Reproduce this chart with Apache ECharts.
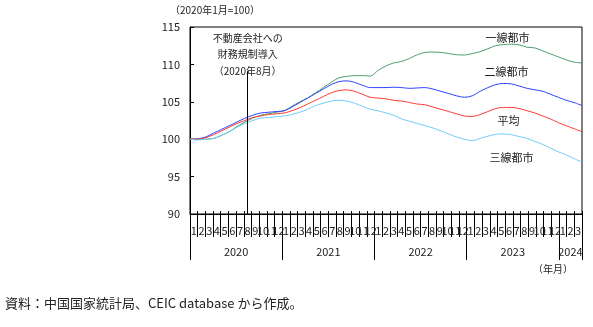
<!DOCTYPE html>
<html><head><meta charset="utf-8">
<script src="https://cdn.jsdelivr.net/npm/echarts@6/dist/echarts.min.js"></script>
<style>html,body{margin:0;padding:0;background:#fff}#c{width:593px;height:327px}</style>
</head><body><div id="c"></div>
<script>
// ---- data ----
const categories = [
 '2020-1','2020-2','2020-3','2020-4','2020-5','2020-6','2020-7','2020-8','2020-9','2020-10','2020-11','2020-12',
 '2021-1','2021-2','2021-3','2021-4','2021-5','2021-6','2021-7','2021-8','2021-9','2021-10','2021-11','2021-12',
 '2022-1','2022-2','2022-3','2022-4','2022-5','2022-6','2022-7','2022-8','2022-9','2022-10','2022-11','2022-12',
 '2023-1','2023-2','2023-3','2023-4','2023-5','2023-6','2023-7','2023-8','2023-9','2023-10','2023-11','2023-12',
 '2024-1','2024-2','2024-3'];
const yearLabels = ['2020','2021','2022','2023','2024'];
const yearStartIndex = [0, 12, 24, 36, 48];
const tier1 = [100.0,100.0,100.0,100.1,100.5,101.0,101.7,102.3,102.8,103.2,103.4,103.6,
 103.8,104.4,105.0,105.5,106.2,106.9,107.6,108.2,108.4,108.5,108.5,108.45,
 109.2,109.8,110.2,110.4,110.8,111.3,111.6,111.65,111.6,111.45,111.3,111.25,
 111.45,111.7,112.1,112.5,112.65,112.7,112.6,112.3,112.2,111.8,111.4,111.0,
 110.6,110.3,110.2];
const tier2 = [100.0,100.05,100.3,100.8,101.3,101.8,102.3,102.8,103.2,103.5,103.6,103.7,
 103.8,104.3,104.9,105.5,106.1,106.7,107.3,107.7,107.8,107.6,107.2,106.9,
 106.9,106.9,106.95,106.9,106.8,106.85,106.9,106.7,106.4,106.1,105.8,105.6,
 105.8,106.4,106.9,107.3,107.45,107.4,107.1,106.8,106.6,106.4,106.0,105.6,
 105.2,104.9,104.5];
const average = [100.0,100.0,100.2,100.6,101.1,101.6,102.1,102.5,102.9,103.1,103.3,103.4,
 103.5,103.8,104.2,104.7,105.2,105.7,106.2,106.5,106.6,106.4,106.0,105.6,
 105.5,105.4,105.2,105.1,104.9,104.7,104.6,104.3,104.0,103.7,103.4,103.1,
 103.05,103.3,103.7,104.1,104.25,104.25,104.1,103.8,103.5,103.1,102.7,102.2,
 101.8,101.4,101.0];
const tier3 = [100.0,99.9,100.0,100.1,100.5,101.0,101.6,102.1,102.5,102.8,102.9,103.0,
 103.1,103.3,103.6,104.0,104.5,104.8,105.1,105.2,105.1,104.8,104.4,104.0,
 103.8,103.5,103.2,102.7,102.4,102.1,101.8,101.5,101.1,100.7,100.3,100.0,
 99.8,100.1,100.4,100.65,100.7,100.6,100.35,100.1,99.7,99.3,98.8,98.3,
 97.9,97.4,96.95];
const yTicks = [90, 95, 100, 105, 110, 115];

// ---- chart ----
const FONT = '"Noto Sans CJK JP", "Noto Sans", sans-serif';
const chart = echarts.init(document.getElementById('c'), null, {renderer: 'canvas'});
const yearMid = yearStartIndex.map((s, i) => ((s + (yearStartIndex[i + 1] ?? categories.length)) / 2));
const isYearStart = (i) => yearStartIndex.includes(i);

function seriesLabel(text, idx, val, off) {
  return {
    symbol: 'circle', symbolSize: 0, silent: true,
    data: [{coord: [categories[idx], val], value: text}],
    label: {show: true, position: 'inside', formatter: text, color: '#222', fontSize: 11, fontFamily: FONT, offset: off}
  };
}
function lineSeries(name, data, color, lbl) {
  return {
    name, type: 'line', data, xAxisIndex: 4, yAxisIndex: 0,
    symbol: 'none', smooth: 0.3, lineStyle: {color, width: 1}, itemStyle: {color},
    markPoint: lbl, z: 3
  };
}

const option = {
  animation: false,
  backgroundColor: '#fff',
  textStyle: {fontFamily: FONT},
  grid: {left: 190, right: 11, top: 27, bottom: 113, show: true, borderColor: '#000', borderWidth: 1},
  xAxis: [
    { // months, labels + inner ticks
      type: 'category', data: categories, boundaryGap: true, position: 'bottom', offset: 0,
      axisLine: {show: true, lineStyle: {color: '#000', width: 1}},
      axisTick: {show: true, inside: true, length: 3, interval: 0, lineStyle: {color: '#000'}},
      axisLabel: {interval: 0, margin: 11, fontSize: 11, color: '#222', fontFamily: FONT,
        formatter: (v) => v.split('-')[1]},
      splitLine: {show: false}
    },
    { // month separator ticks below
      type: 'category', data: categories, boundaryGap: true, position: 'bottom', offset: 0,
      axisLine: {show: false},
      axisTick: {show: true, inside: false, length: 23, interval: 0, lineStyle: {color: '#000'}},
      axisLabel: {show: false}, splitLine: {show: false}
    },
    { // year separator ticks
      type: 'category', data: categories, boundaryGap: true, position: 'bottom', offset: 0,
      axisLine: {show: false},
      axisTick: {show: true, inside: false, length: 46, interval: (i) => isYearStart(i), lineStyle: {color: '#000'}},
      axisLabel: {show: false}, splitLine: {show: false}
    },
    { // year labels
      type: 'value', min: 0, max: categories.length, interval: 1.5, position: 'bottom', offset: 0,
      axisLine: {show: false}, axisTick: {show: false}, splitLine: {show: false},
      axisLabel: {margin: 32, fontSize: 11, color: '#222', fontFamily: FONT,
        formatter: (v) => { const k = yearMid.findIndex(m => Math.abs(m - v) < 1e-6); return k >= 0 ? yearLabels[k] : ''; }},
      name: '（年月）', nameLocation: 'end', nameGap: 0,
      nameTextStyle: {fontSize: 10, color: '#222', fontFamily: FONT, align: 'right', verticalAlign: 'top', padding: [50, 9, 0, 0]}
    },
    { // hidden axis for the lines (edge to edge)
      type: 'category', data: categories, boundaryGap: false, show: false
    }
  ],
  yAxis: [{
    type: 'value', min: yTicks[0], max: yTicks[yTicks.length - 1], interval: 5,
    axisLine: {show: true, lineStyle: {color: '#000'}},
    axisTick: {show: true, inside: true, length: 4, lineStyle: {color: '#000'}},
    axisLabel: {margin: 10, fontSize: 11, color: '#222', fontFamily: FONT},
    splitLine: {show: false}
  }],
  graphic: [
    {type: 'text', left: 170, top: 5, style: {text: '（2020年1月=100）', fill: '#222', font: '10px ' + FONT}},
    {type: 'text', left: 5, top: 297, style: {text: '資料：中国国家統計局、CEIC database から作成。', fill: '#222', font: '13px ' + FONT}}
  ],
  series: [
    { // annotation: start of financing rules (Aug 2020)
      name: '注記', type: 'line', data: [], xAxisIndex: 0, yAxisIndex: 0, symbol: 'none',
      markLine: {
        silent: true, symbol: 'none', lineStyle: {color: '#000', width: 1, type: 'solid'},
        label: {show: false},
        data: [[{coord: ['2020-8', 90]}, {coord: ['2020-8', 109.1]}]]
      },
      markPoint: {
        symbol: 'circle', symbolSize: 0, silent: true,
        data: [{coord: ['2020-8', 111.3], value: 0}],
        label: {show: true, position: 'inside', formatter: '不動産会社への\n財務規制導入\n（2020年8月）',
          fontSize: 10, lineHeight: 16.5, color: '#222', fontFamily: FONT, align: 'center'}
      }
    },
    lineSeries('一線都市', tier1, '#4c9f6b', seriesLabel('一線都市', 40, 113.6, [4, 0])),
    lineSeries('二線都市', tier2, '#2e44ff', seriesLabel('二線都市', 40, 109.0, [3, 0])),
    lineSeries('平均', average, '#ff3a33', seriesLabel('平均', 40, 102.47, [5, 0])),
    lineSeries('三線都市', tier3, '#6fcdfb', seriesLabel('三線都市', 40, 97.53, [8, 0]))
  ]
};
chart.setOption(option);
</script>
</body></html>
